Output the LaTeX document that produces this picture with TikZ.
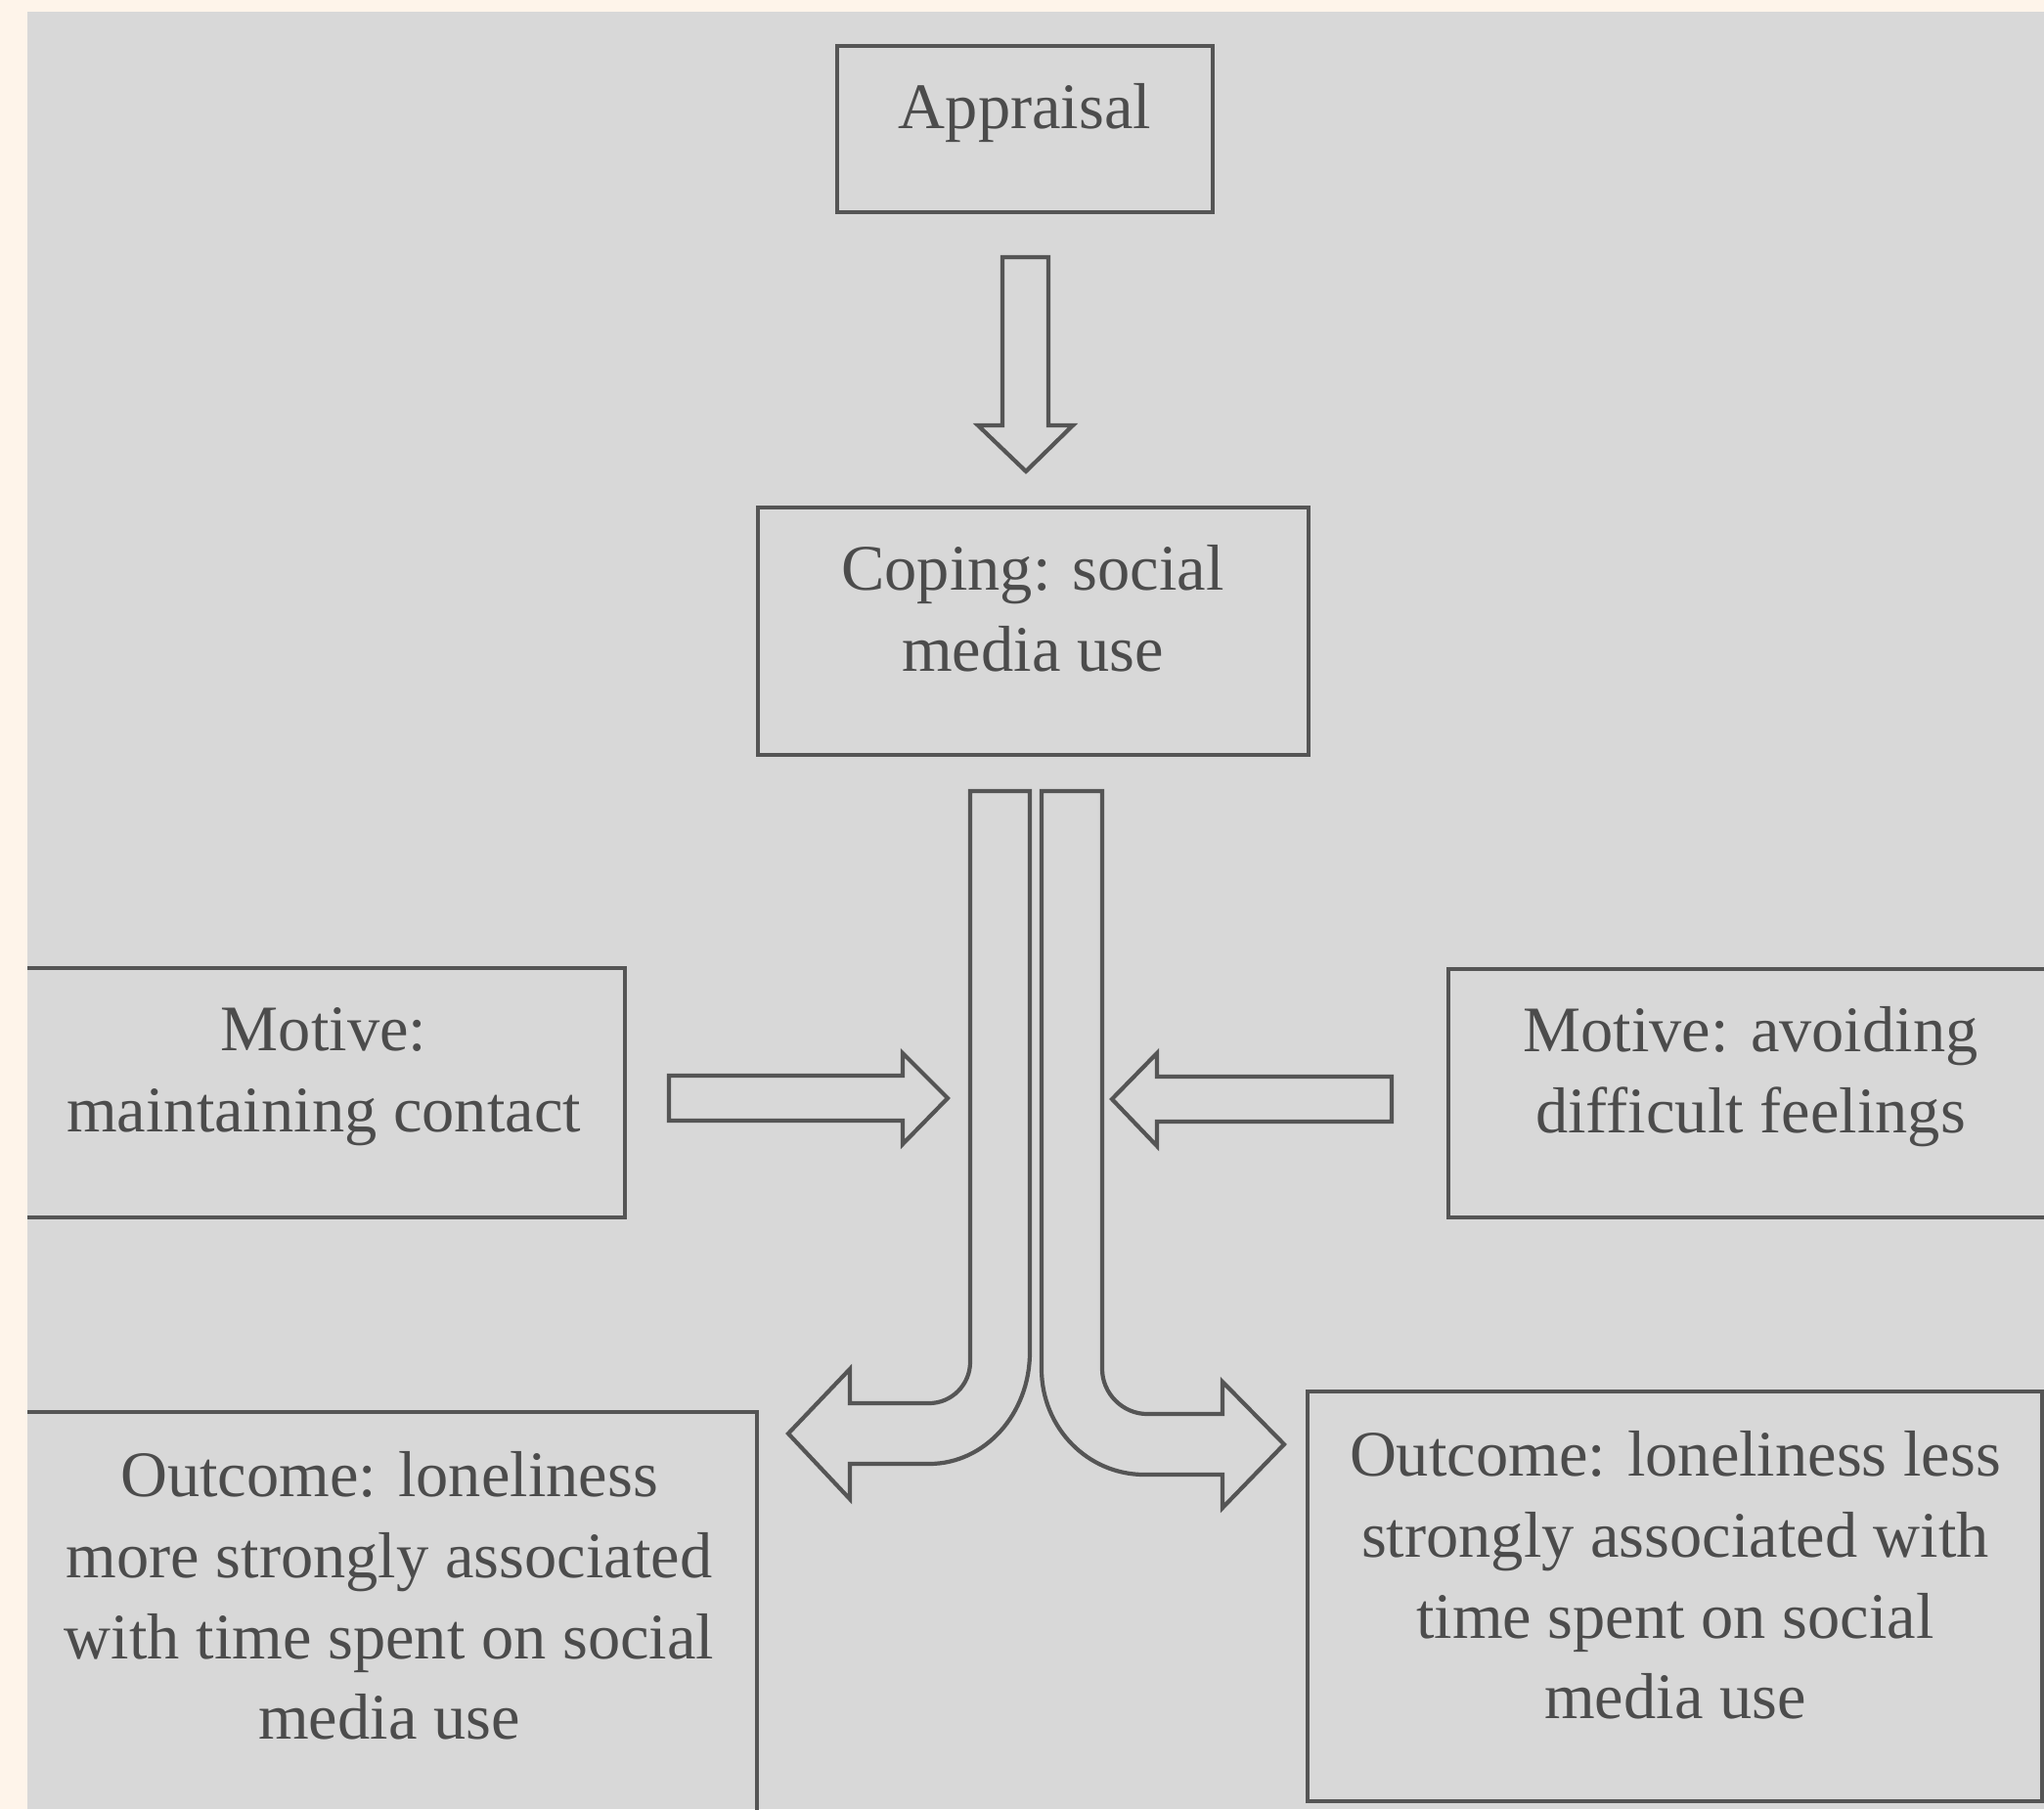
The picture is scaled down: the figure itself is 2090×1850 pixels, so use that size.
\documentclass[tikz,border=0pt]{standalone}
\usepackage{fontspec}
\setmainfont{Liberation Serif}
\usepackage{xcolor}
\definecolor{cream}{HTML}{FEF4EA}
\definecolor{panel}{HTML}{D8D8D8}
\definecolor{ink}{HTML}{555555}
\definecolor{txtgray}{HTML}{4C4C4C}
\usepackage{tikz}
\usetikzlibrary{positioning, calc}

\begin{document}
\begin{tikzpicture}[
  x=0.1mm, y=-0.1mm,
  every node/.style={font=\fontsize{18.9}{23.5}\selectfont},
  box/.style={draw=ink, line width=0.42mm, inner sep=0pt},
  label text/.style={text=txtgray, align=center, inner sep=0pt},
  blockarrow/.style={draw=ink, line width=0.42mm, line join=miter},
]
\useasboundingbox (0,0) rectangle (2090,1850);
\fill[cream] (0,0) rectangle (2090,1850);
\fill[panel] (28,12) rectangle (2090,1850);

\begin{scope}
\clip (28,12) rectangle (2090,1850);

% boxes
\node[box, minimum width=38.4mm, minimum height=17mm]   (appraisal) at (1048,132)   {};
\node[box, minimum width=56.3mm, minimum height=25.3mm] (coping)    at (1056.5,645.5) {};
\node[box, minimum width=62.9mm, minimum height=25.5mm] (contact)   at (324.5,1117.5) {};
\node[box, minimum width=62.9mm, minimum height=25.4mm] (avoiding)  at (1795.5,1118) {};
\node[box, minimum width=76.4mm, minimum height=42.6mm] (more)      at (392,1657)   {};
\node[box, minimum width=75.1mm, minimum height=41.9mm] (less)      at (1712.5,1632.5) {};

% texts
\node[label text] (appraisaltxt) at (1048,116)  {Appraisal};
\node[label text] (copingtxt)    at (1056,622)  {Coping: social\\media use};
\node[label text] (contacttxt)   at (331,1101)  {Motive:\\maintaining contact};
\node[label text] (avoidingtxt)  at (1790,1101) {Motive: avoiding\\difficult feelings};
\node[label text] (moretxt)      at (398,1632)  {Outcome: loneliness\\more strongly associated\\with time spent on social\\media use};
\node[label text] (lesstxt)      at (1713,1611) {Outcome: loneliness less\\strongly associated with\\time spent on social\\media use};
\end{scope}

% appraisal -> coping
\draw[blockarrow] (1025,263) -- (1072,263) -- (1072,435) -- (1097,435)
  -- (1049,482) -- (1000,435) -- (1025,435) -- cycle;

% motives pointing in
\draw[blockarrow] (684,1100) -- (923,1100) -- (923,1077) -- (969,1123)
  -- (923,1170) -- (923,1146) -- (684,1146) -- cycle;
\draw[blockarrow] (1423,1101) -- (1183,1101) -- (1183,1077) -- (1137,1124)
  -- (1183,1172) -- (1183,1147) -- (1423,1147) -- cycle;

% split into the two outcomes
\draw[blockarrow] (1053,809) -- (992,809) -- (992,1393)
  .. controls (992,1416) and (973,1435) .. (950,1435)
  -- (869,1435) -- (869,1400) -- (806,1466) -- (869,1533) -- (869,1497)
  -- (950,1497) .. controls (1007,1497) and (1053,1446) .. (1053,1383)
  -- cycle;
\draw[blockarrow] (1065,809) -- (1127,809) -- (1127,1400)
  .. controls (1127,1425) and (1148,1446) .. (1173,1446)
  -- (1250,1446) -- (1250,1413) -- (1313,1477) -- (1250,1542) -- (1250,1508)
  -- (1170,1508) .. controls (1112,1508) and (1065,1460) .. (1065,1400)
  -- cycle;

\end{tikzpicture}
\end{document}
